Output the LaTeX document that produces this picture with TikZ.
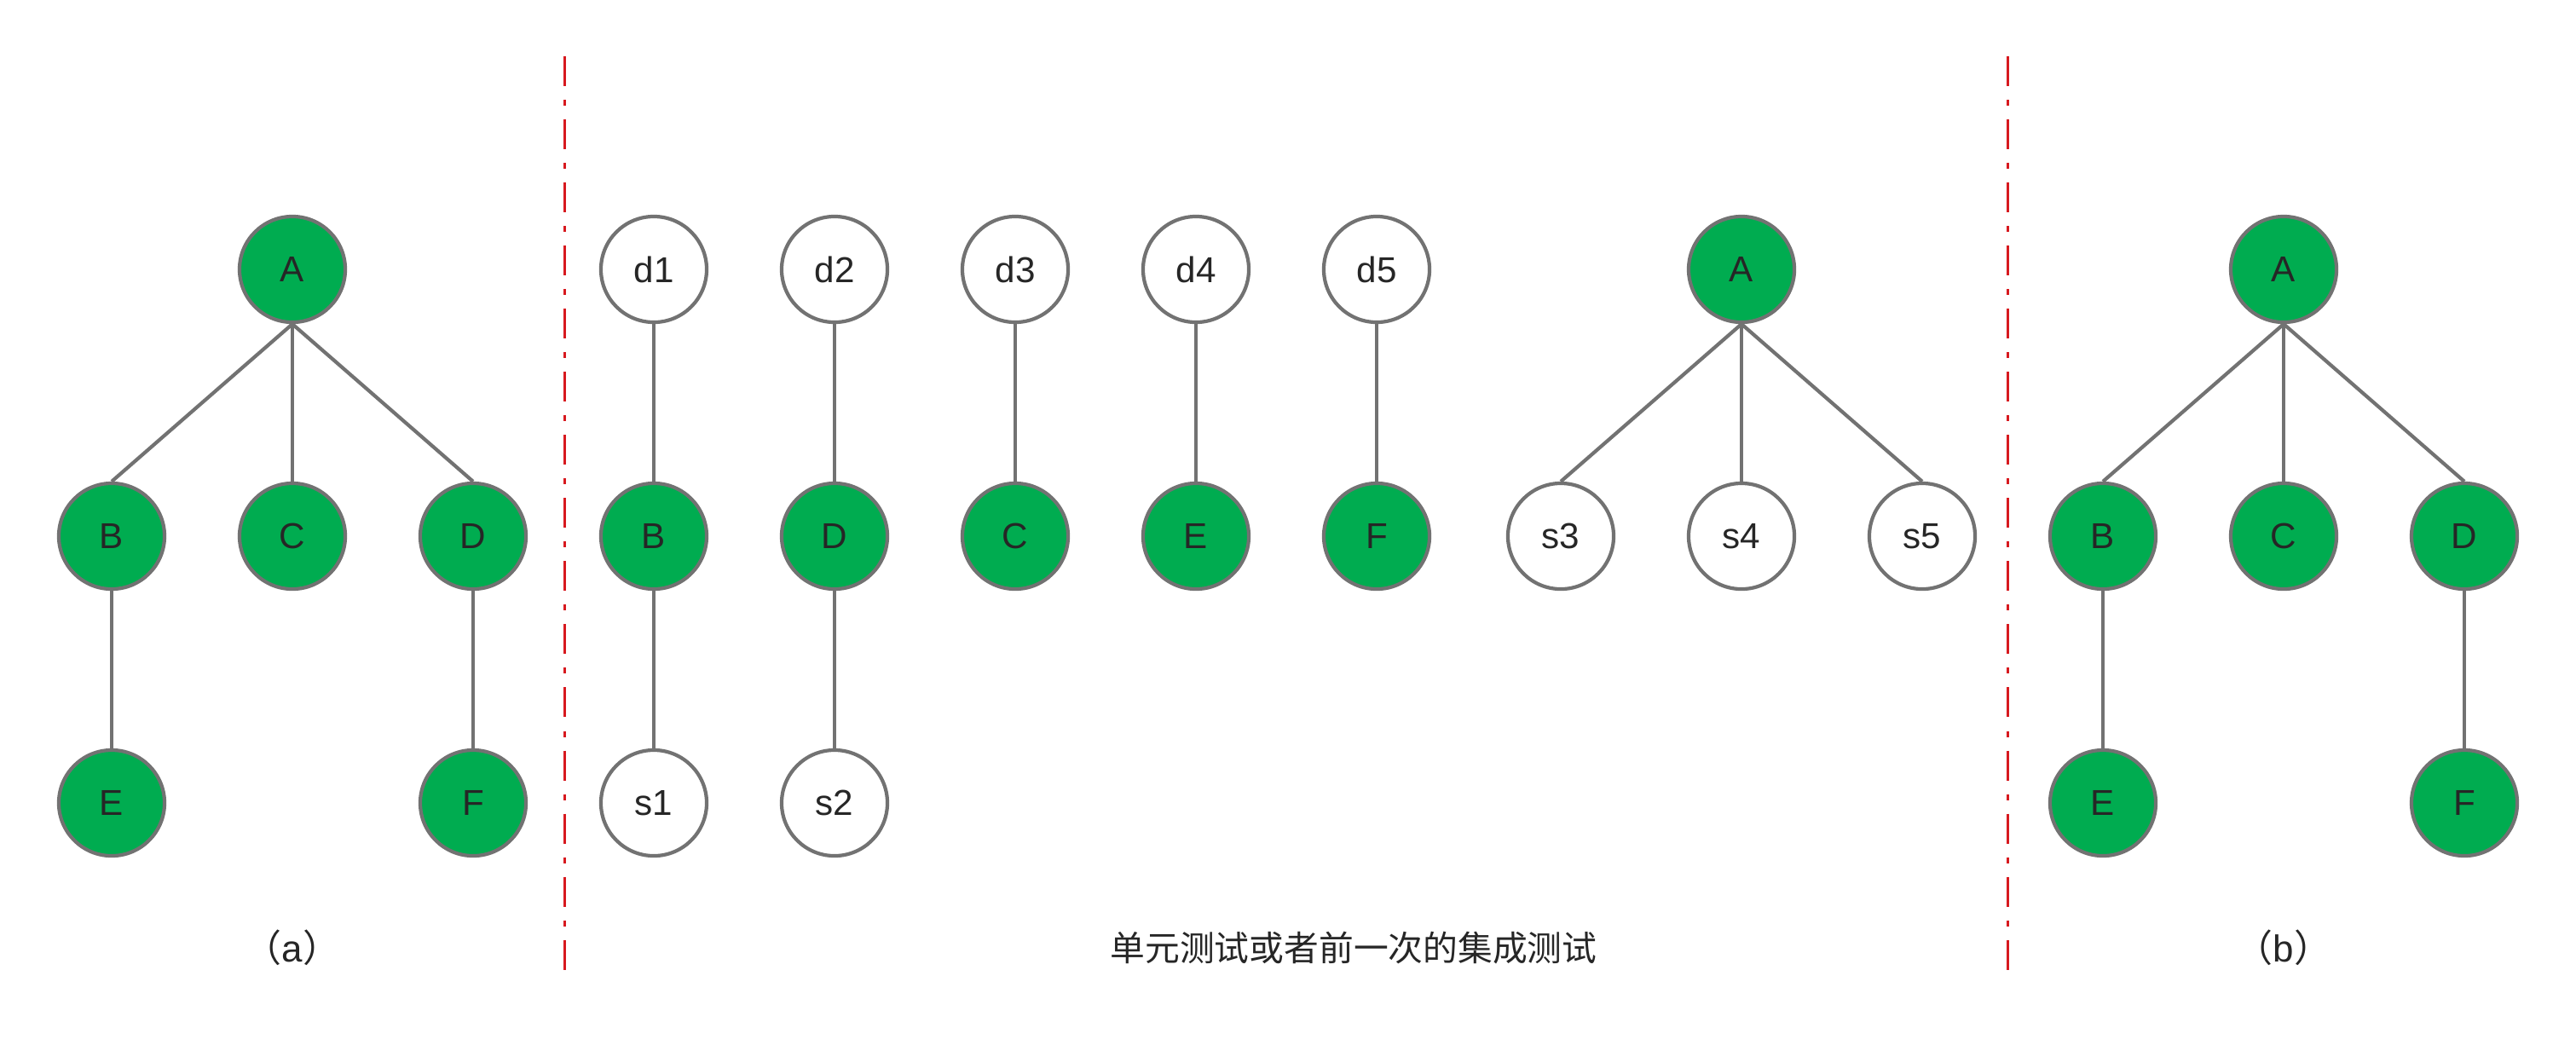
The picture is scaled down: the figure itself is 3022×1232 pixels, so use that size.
\documentclass[tikz,border=0pt]{standalone}
\usepackage{fontspec}
\setmainfont{Liberation Sans}
\newfontfamily\cjk{Noto Sans CJK SC}
\definecolor{ngreen}{HTML}{00AC50}
\definecolor{ngray}{HTML}{727272}
\definecolor{ntext}{HTML}{262626}
\definecolor{nred}{HTML}{D7191F}
\begin{document}
\begin{tikzpicture}[x=0.01cm,y=-0.01cm,
  nd/.style={circle,draw=ngray,line width=0.042cm,minimum size=1.24cm,inner sep=0pt,
    font=\fontsize{12}{14}\selectfont,text=ntext},
  gn/.style={nd,fill=ngreen},
  wn/.style={nd,fill=white},
  ed/.style={draw=ngray,line width=0.042cm},
  sep/.style={draw=nred,line width=0.03cm,dash pattern=on 0.35cm off 0.16cm on 0.07cm off 0.16cm},
  lab/.style={font=\fontsize{12.5}{14}\selectfont,text=ntext,inner sep=0pt}]
\useasboundingbox (0,0) rectangle (3022,1232);
% left tree (a)
\node[gn] (a1) at (343,316) {A};
\node[gn] (b1) at (131,629) {B};
\node[gn] (c1) at (343,629) {C};
\node[gn] (d1n) at (555,629) {D};
\node[gn] (e1) at (131,942) {E};
\node[gn] (f1) at (555,942) {F};
\draw[ed] (a1.south) -- (b1.north);
\draw[ed] (a1.south) -- (c1.north);
\draw[ed] (a1.south) -- (d1n.north);
\draw[ed] (b1) -- (e1);
\draw[ed] (d1n) -- (f1);
% middle
\node[wn] (md1) at (767,316) {d1};
\node[wn] (md2) at (979,316) {d2};
\node[wn] (md3) at (1191,316) {d3};
\node[wn] (md4) at (1403,316) {d4};
\node[wn] (md5) at (1615,316) {d5};
\node[gn] (mB) at (767,629) {B};
\node[gn] (mD) at (979,629) {D};
\node[gn] (mC) at (1191,629) {C};
\node[gn] (mE) at (1403,629) {E};
\node[gn] (mF) at (1615,629) {F};
\node[wn] (ms1) at (767,942) {s1};
\node[wn] (ms2) at (979,942) {s2};
\draw[ed] (md1) -- (mB);
\draw[ed] (md2) -- (mD);
\draw[ed] (md3) -- (mC);
\draw[ed] (md4) -- (mE);
\draw[ed] (md5) -- (mF);
\draw[ed] (mB) -- (ms1);
\draw[ed] (mD) -- (ms2);
\node[gn] (mA) at (2043,316) {A};
\node[wn] (ms3) at (1831,629) {s3};
\node[wn] (ms4) at (2043,629) {s4};
\node[wn] (ms5) at (2255,629) {s5};
\draw[ed] (mA.south) -- (ms3.north);
\draw[ed] (mA.south) -- (ms4.north);
\draw[ed] (mA.south) -- (ms5.north);
% right tree (b)
\node[gn] (a2) at (2679,316) {A};
\node[gn] (b2) at (2467,629) {B};
\node[gn] (c2) at (2679,629) {C};
\node[gn] (d2n) at (2891,629) {D};
\node[gn] (e2) at (2467,942) {E};
\node[gn] (f2) at (2891,942) {F};
\draw[ed] (a2.south) -- (b2.north);
\draw[ed] (a2.south) -- (c2.north);
\draw[ed] (a2.south) -- (d2n.north);
\draw[ed] (b2) -- (e2);
\draw[ed] (d2n) -- (f2);
% separators
\coordinate (s1t) at (662,66);
\coordinate (s1b) at (662,1152);
\coordinate (s2t) at (2355,66);
\coordinate (s2b) at (2355,1152);
\draw[sep] (s1t) -- (s1b);
\draw[sep] (s2t) -- (s2b);
% labels
\node[lab] (la) at (343,1112) {{\cjk （}a{\cjk ）}};
\node[lab,font=\fontsize{11.6}{14}\selectfont] (lm) at (1588,1112) {\cjk 单元测试或者前一次的集成测试};
\node[lab] (lb) at (2679,1112) {{\cjk （}b{\cjk ）}};
\end{tikzpicture}
\end{document}
